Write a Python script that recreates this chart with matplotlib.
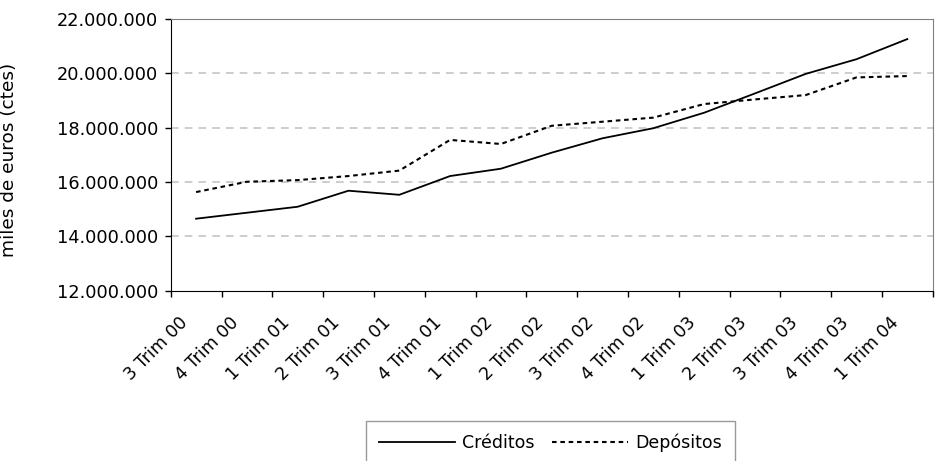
import numpy as np
import matplotlib
matplotlib.use("Agg")
import matplotlib.pyplot as plt
from matplotlib.ticker import FixedLocator, FuncFormatter
from matplotlib.transforms import ScaledTranslation

plt.rcParams['font.family'] = ['DejaVu Sans']

# Quarters and values (miles de euros constantes)
trimestres = ['3 Trim 00', '4 Trim 00', '1 Trim 01', '2 Trim 01', '3 Trim 01',
              '4 Trim 01', '1 Trim 02', '2 Trim 02', '3 Trim 02', '4 Trim 02',
              '1 Trim 03', '2 Trim 03', '3 Trim 03', '4 Trim 03', '1 Trim 04']
creditos = [14650000, 14870000, 15090000, 15680000, 15530000,
            16220000, 16490000, 17080000, 17610000, 17980000,
            18550000, 19260000, 19980000, 20520000, 21260000]
depositos = [15630000, 16010000, 16070000, 16220000, 16420000,
             17550000, 17400000, 18070000, 18220000, 18370000,
             18870000, 19040000, 19200000, 19850000, 19900000]

fig = plt.figure(figsize=(9.35, 4.61), dpi=100)
ax = fig.add_axes([170.7 / 935, 1 - 290.7 / 461, 762 / 935, 271.7 / 461])

x = np.arange(len(trimestres))
ax.plot(x, creditos, color='black', lw=1.3, label='Créditos')
ax.plot(x, depositos, color='black', lw=1.5, dashes=(2.2, 1.8), label='Depósitos')

ax.set_xlim(-0.5, len(trimestres) - 0.5)
ax.set_ylim(12000000, 22000000)

ax.set_yticks(np.arange(12000000, 22000001, 2000000))
ax.yaxis.set_major_formatter(FuncFormatter(lambda v, p: f'{int(v):,}'.replace(',', '.')))
for yv in range(14000000, 22000000, 2000000):
    ax.axhline(yv, color='#c0c0c0', lw=1.1, dashes=(5, 4), zorder=0)

# category ticks between points, labels at centres
ax.xaxis.set_major_locator(FixedLocator(np.arange(-0.5, len(trimestres), 1.0)))
ax.xaxis.set_major_formatter(FuncFormatter(lambda v, p: ''))
ax.xaxis.set_minor_locator(FixedLocator(x))
ax.set_xticklabels(trimestres, minor=True, rotation=45, ha='right', va='center',
                   rotation_mode='anchor', fontsize=12.5)
ax.tick_params(axis='x', which='minor', length=0, pad=21)
shift = ScaledTranslation(-11 / 100, 0, fig.dpi_scale_trans)
for lab in ax.get_xticklabels(minor=True):
    lab.set_transform(lab.get_transform() + shift)
ax.tick_params(axis='both', which='major', direction='out', length=4, width=1, colors='black')
ax.tick_params(axis='y', labelsize=12.8, pad=5)

for s in ['top', 'right']:
    ax.spines[s].set_color('#808080')
for s in ['left', 'bottom']:
    ax.spines[s].set_color('black')

ax.set_ylabel('miles de euros (ctes)', fontsize=13.3)
ax.yaxis.set_label_coords((18 - 170.7) / 762, 0.48)

leg = fig.legend(loc='upper center', bbox_to_anchor=(550.5 / 935, 1 - 420.7 / 461),
                 ncol=2, fontsize=12.5, frameon=True, fancybox=False,
                 handlelength=4.4, handletextpad=0.4, columnspacing=1.0,
                 borderpad=0.75, borderaxespad=0)
leg.get_frame().set_edgecolor('#808080')
leg.get_frame().set_linewidth(1.0)

fig.savefig('out.png', dpi=100)
